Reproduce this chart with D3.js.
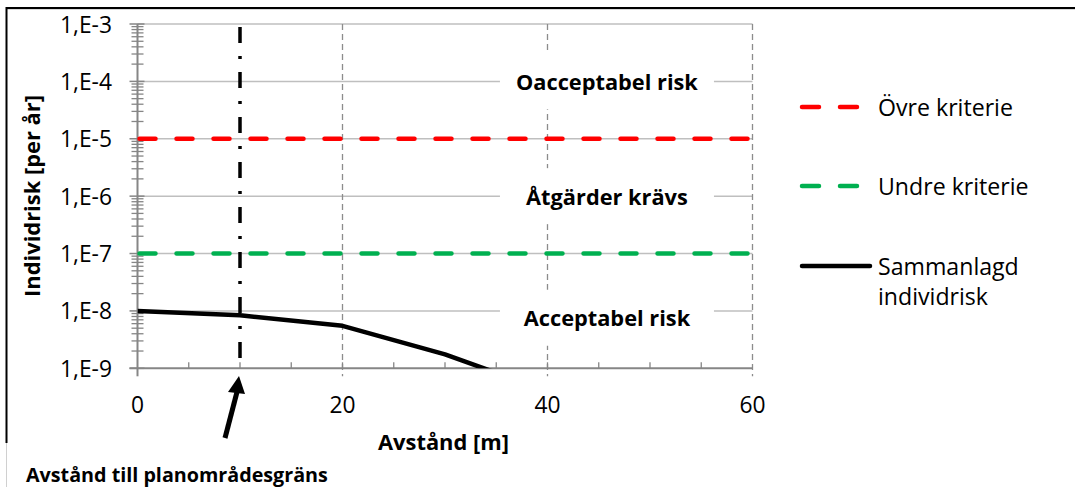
<!DOCTYPE html>
<html><head><meta charset="utf-8">
<script src="https://cdn.jsdelivr.net/npm/d3@7"></script>
<style>
html,body{margin:0;padding:0;background:#fff;}
text{font-family:"Open Sans",Carlito,Calibri,sans-serif;}
</style></head>
<body>
<svg id="c" width="1075" height="487"></svg>
<script>
// ---- data ----
const distances = [0, 10, 20, 30, 40];
const riskValues = [1.0e-8, 8.4e-9, 5.5e-9, 1.75e-9, 4.0e-10];
const upperCriterion = 1e-5;
const lowerCriterion = 1e-7;
const criterionX = [0, 60];
const boundaryDistance = 10;
const yTickValues = [1e-9, 1e-8, 1e-7, 1e-6, 1e-5, 1e-4, 1e-3];
const yTickLabels = ["1,E-9", "1,E-8", "1,E-7", "1,E-6", "1,E-5", "1,E-4", "1,E-3"];
const xTickValues = [0, 20, 40, 60];
const seriesNames = ["Övre kriterie", "Undre kriterie", "Sammanlagd individrisk"];
const seriesColors = ["#ff0000", "#00b050", "#000000"];
const zoneLabels = ["Oacceptabel risk", "Åtgärder krävs", "Acceptabel risk"];
const zoneValues = [1e-4, 1e-6, 7.6e-9];
const zoneX = 45.8;

const svg = d3.select("#c");
const x = d3.scaleLinear().domain([0, 60]).range([137.5, 752.5]);
const y = d3.scaleLog().domain([1e-9, 1e-3]).range([368.3, 24]);
const axisCol = "#868686", gridCol = "#bfbfbf";

// font size that makes a sample string a given width
function fitSize(str, width, bold) {
  const t = svg.append("text").attr("font-size", 20).attr("font-weight", bold ? "bold" : "normal").text(str);
  const w = t.node().getComputedTextLength();
  t.remove();
  return 20 * width / w;
}
const fsTick = fitSize("1,E-3", 52, false);
const fsLeg = fitSize("Övre kriterie", 135, false);
const fsZone = fitSize("Oacceptabel risk", 182, true);
const fsYTitle = fitSize("Individrisk [per år]", 202, true);
const fsNote = fitSize("Avstånd till planområdesgräns", 302, true);

// outer frame
svg.append("line").attr("x1",6).attr("x2",1075).attr("y1",9.5).attr("y2",9.5).attr("stroke","#d9d9d9").attr("stroke-width",1);
svg.append("line").attr("x1",6).attr("x2",1075).attr("y1",8).attr("y2",8).attr("stroke","#000").attr("stroke-width",2);
svg.append("line").attr("x1",6.5).attr("x2",6.5).attr("y1",8).attr("y2",487).attr("stroke","#d0d0d0").attr("stroke-width",1);
svg.append("line").attr("x1",6.5).attr("x2",6.5).attr("y1",7).attr("y2",443).attr("stroke","#000").attr("stroke-width",2);

// horizontal gridlines
svg.append("g").selectAll("line").data(yTickValues.slice(1)).join("line")
  .attr("x1", x(0)).attr("x2", x(60)).attr("y1", d => y(d)).attr("y2", d => y(d))
  .attr("stroke", gridCol).attr("stroke-width", 1.5);
// vertical dashed gridlines
svg.append("g").selectAll("line").data(xTickValues.slice(1)).join("line")
  .attr("x1", d => x(d)).attr("x2", d => x(d)).attr("y1", y(1e-3)).attr("y2", y(1e-9) + 8)
  .attr("stroke", "#8c8c8c").attr("stroke-width", 1.3).attr("stroke-dasharray", "6,4");

// zone labels with white boxes
const zg = svg.append("g");
zoneValues.forEach((v, i) => {
  const cx = x(zoneX), cy = y(v);
  zg.append("rect").attr("x", cx - 107).attr("y", cy - 28).attr("width", 214).attr("height", 56).attr("fill", "#fff");
  zg.append("text").attr("x", cx).attr("y", cy).attr("text-anchor", "middle").attr("dominant-baseline", "central")
    .attr("font-size", fsZone).attr("font-weight", "bold").attr("fill", "#000").text(zoneLabels[i]);
});

// y axis
const yAxis = svg.append("g");
yAxis.append("line").attr("x1", x(0)).attr("x2", x(0)).attr("y1", y(1e-3)).attr("y2", y(1e-9)).attr("stroke", axisCol).attr("stroke-width", 2);
const minor = [];
for (let e = -9; e < -3; e++) for (let m = 2; m <= 9; m++) minor.push(m * Math.pow(10, e));
yAxis.selectAll(".mn").data(minor).join("line").attr("class","mn")
  .attr("x1", x(0) - 6).attr("x2", x(0) + 6).attr("y1", d => y(d)).attr("y2", d => y(d))
  .attr("stroke", axisCol).attr("stroke-width", 1.3);
yAxis.selectAll(".mj").data(yTickValues).join("line").attr("class","mj")
  .attr("x1", x(0) - 8).attr("x2", x(0) + 7).attr("y1", d => y(d)).attr("y2", d => y(d))
  .attr("stroke", axisCol).attr("stroke-width", 1.5);
yAxis.selectAll("text").data(yTickValues).join("text")
  .attr("x", 112).attr("y", d => y(d)).attr("text-anchor", "end").attr("dominant-baseline", "central")
  .attr("font-size", fsTick).attr("fill", "#000").text((d, i) => yTickLabels[i]);

// x axis
const xAxis = svg.append("g");
xAxis.append("line").attr("x1", x(0) - 8).attr("x2", x(60)).attr("y1", y(1e-9)).attr("y2", y(1e-9)).attr("stroke", axisCol).attr("stroke-width", 2);
xAxis.selectAll(".mn").data(d3.range(5, 60, 5)).join("line").attr("class","mn")
  .attr("x1", d => x(d)).attr("x2", d => x(d)).attr("y1", y(1e-9) - 6).attr("y2", y(1e-9))
  .attr("stroke", axisCol).attr("stroke-width", 1.3);
xAxis.append("line").attr("x1", x(0)).attr("x2", x(0)).attr("y1", y(1e-9)).attr("y2", y(1e-9) + 8).attr("stroke", axisCol).attr("stroke-width", 2);
xAxis.selectAll("text").data(xTickValues).join("text")
  .attr("x", d => x(d)).attr("y", 404).attr("text-anchor", "middle").attr("dominant-baseline", "central")
  .attr("font-size", fsTick).attr("fill", "#000").text(d => d);

// axis titles
svg.append("text").attr("x", 378).attr("y", 441).attr("text-anchor", "start").attr("dominant-baseline", "central")
  .attr("font-size", fsYTitle).attr("font-weight", "bold").text("Avstånd [m]");
svg.append("text").attr("transform", "translate(31,196) rotate(-90)").attr("text-anchor", "middle").attr("dominant-baseline", "central")
  .attr("font-size", fsYTitle).attr("font-weight", "bold").text("Individrisk [per år]");

// criteria lines
const crit = [upperCriterion, lowerCriterion];
svg.append("g").selectAll("line").data(crit).join("line")
  .attr("x1", x(criterionX[0]) + 2).attr("x2", x(criterionX[1])).attr("y1", d => y(d)).attr("y2", d => y(d))
  .attr("stroke", (d, i) => seriesColors[i]).attr("stroke-width", 4.5)
  .attr("stroke-dasharray", "16,21").attr("stroke-linecap", "round");

// clip for risk line
svg.append("clipPath").attr("id", "pc").append("rect")
  .attr("x", x(0)).attr("y", y(1e-3)).attr("width", x(60) - x(0)).attr("height", y(1e-9) - y(1e-3));
const line = d3.line().x((d, i) => x(distances[i])).y(d => y(d));
svg.append("path").datum(riskValues).attr("d", line).attr("clip-path", "url(#pc)")
  .attr("fill", "none").attr("stroke", seriesColors[2]).attr("stroke-width", 4.5).attr("stroke-linejoin", "round");

// boundary dash-dot line
svg.append("line").attr("x1", x(boundaryDistance)).attr("x2", x(boundaryDistance))
  .attr("y1", y(1e-3) + 3).attr("y2", y(1e-9))
  .attr("stroke", "#000").attr("stroke-width", 3.5).attr("stroke-dasharray", "16,13,3,13");

// arrow
const ax = x(boundaryDistance);
svg.append("line").attr("x1", 225).attr("y1", 438).attr("x2", ax - 3).attr("y2", 392)
  .attr("stroke", "#000").attr("stroke-width", 5);
svg.append("path").attr("d", `M${ax - 1},376 L${ax + 5},394 L${ax - 12},392 Z`).attr("fill", "#000");
svg.append("text").attr("x", 26).attr("y", 474).attr("dominant-baseline", "central")
  .attr("font-size", fsNote).attr("font-weight", "bold").text("Avstånd till planområdesgräns");

// legend
const legY = [107, 186, 266];
const lg = svg.append("g");
seriesNames.forEach((n, i) => {
  if (i < 2) {
    lg.append("line").attr("x1", 802).attr("x2", 858).attr("y1", legY[i]).attr("y2", legY[i])
      .attr("stroke", seriesColors[i]).attr("stroke-width", 4.5).attr("stroke-dasharray", "17,21").attr("stroke-linecap", "round");
    lg.append("text").attr("x", 878).attr("y", legY[i]).attr("dominant-baseline", "central").attr("font-size", fsLeg).text(n);
  } else {
    lg.append("line").attr("x1", 802).attr("x2", 870).attr("y1", legY[i]).attr("y2", legY[i])
      .attr("stroke", seriesColors[i]).attr("stroke-width", 4.5).attr("stroke-linecap", "round");
    const words = n.split(" ");
    lg.append("text").attr("x", 878).attr("y", legY[i]).attr("dominant-baseline", "central").attr("font-size", fsLeg).text(words[0]);
    lg.append("text").attr("x", 878).attr("y", legY[i] + 30).attr("dominant-baseline", "central").attr("font-size", fsLeg).text(words[1]);
  }
});
</script>
</body></html>
